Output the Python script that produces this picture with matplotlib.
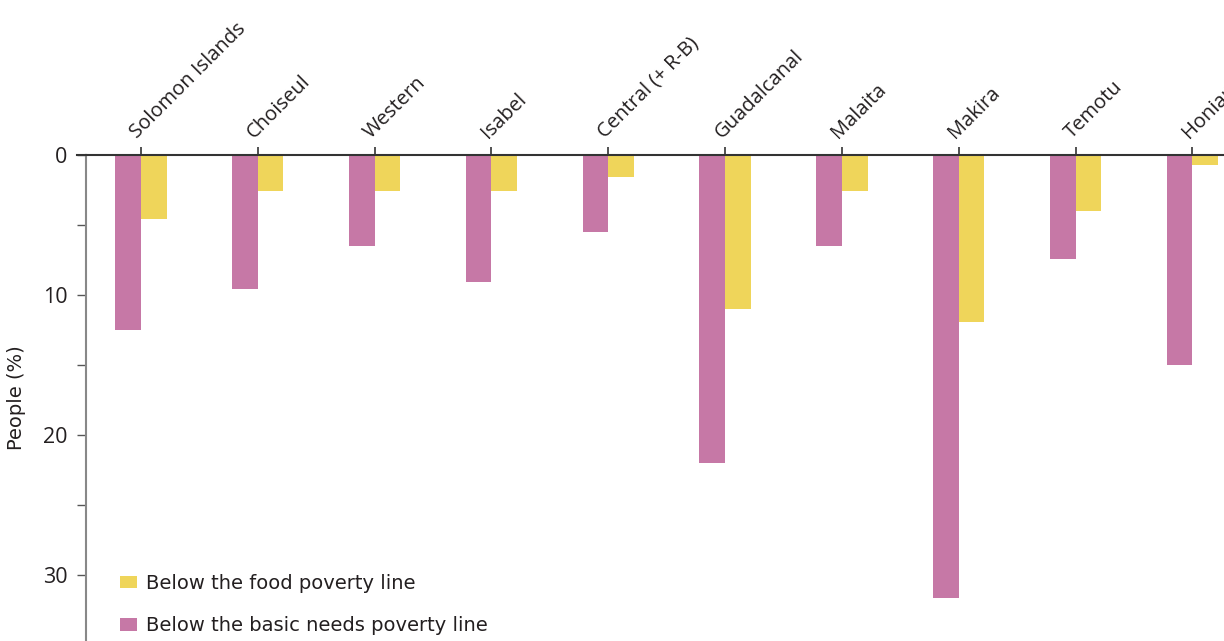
import matplotlib
matplotlib.use("Agg")
import matplotlib.pyplot as plt
import numpy as np

regions = ["Solomon Islands", "Choiseul", "Western", "Isabel", "Central (+ R-B)",
           "Guadalcanal", "Malaita", "Makira", "Temotu", "Honiara"]
basic_needs = [12.5, 9.6, 6.5, 9.1, 5.5, 22.0, 6.5, 31.6, 7.4, 15.0]
food = [4.6, 2.6, 2.6, 2.6, 1.6, 11.0, 2.6, 11.9, 4.0, 0.7]

magenta = "#C678A6"
yellow = "#EFD55A"
txt = "#231F20"

fig = plt.figure(figsize=(12.24, 6.41), dpi=100)
ax = fig.add_axes([86 / 1224, 0.0, 1 - 86 / 1224, 1 - 155 / 641])

x = np.arange(len(regions))
w = 0.22
ax.bar(x - w / 2, basic_needs, w, color=magenta, label="Below the basic needs poverty line")
ax.bar(x + w / 2, food, w, color=yellow, label="Below the food poverty line")

ax.set_xlim(-0.47, 9.27)
ax.set_ylim(34.7, 0)

# category axis at the top
ax.xaxis.tick_top()
ax.set_xticks(x)
ax.set_xticklabels(regions, rotation=45, ha="left", va="bottom",
                   rotation_mode="anchor", fontsize=14.5, family="Open Sans", color=txt)
ax.tick_params(axis="x", direction="out", length=6, width=1.2, color="#333333", pad=3)

ax.set_yticks([0, 10, 20, 30])
ax.set_yticks([5, 15, 25], minor=True)
ax.tick_params(axis="y", which="both", direction="out", length=6.5, width=1,
               color="#555555", labelsize=15.5, labelcolor=txt, pad=7)
for t in ax.get_yticklabels():
    t.set_family("Open Sans")

for s in ["right", "bottom"]:
    ax.spines[s].set_visible(False)
ax.spines["left"].set_color("#888888")
ax.spines["left"].set_linewidth(1.5)
ax.spines["top"].set_color("#333333")
ax.spines["top"].set_linewidth(1.5)
ax.axhline(0, xmin=-0.008, xmax=0.0, color="#333333", lw=1.5, clip_on=False)

ax.set_ylabel("People (%)", fontsize=14, family="DejaVu Sans", color=txt, labelpad=12)

h, l = ax.get_legend_handles_labels()
ax.legend(h[::-1], l[::-1], loc="upper left", bbox_to_anchor=(0.021, 0.158),
          frameon=False, prop={"family": "DejaVu Sans", "size": 14},
          handlelength=0.9, handleheight=0.6, handletextpad=0.45,
          labelspacing=1.2, borderpad=0, labelcolor=txt)

fig.savefig("out.png", dpi=100)
